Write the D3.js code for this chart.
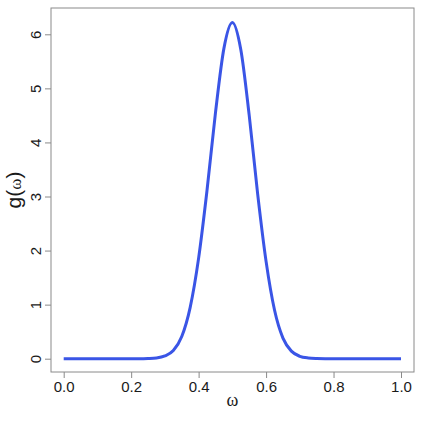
<!DOCTYPE html>
<html>
<head>
    <script src="https://cdnjs.cloudflare.com/ajax/libs/d3/7.8.5/d3.min.js"></script>
    <style>
        body { margin: 0; background: #fff; }
        .tick text { font-family: "Liberation Sans", Arial, sans-serif; font-size: 15px; fill: #1a1a1a; }
    </style>
</head>
<body>
<svg id="chart"></svg>
<script>
    // values, step 0.025
    const omega = d3.range(0, 41).map(i => +(i * 0.025).toFixed(3));
    const gValues = [
        0, 0, 0, 0, 0, 0, 0, 0, 0, 0,
        0.004, 0.014, 0.05, 0.15, 0.41, 0.95, 1.86, 3.12, 4.55, 5.74,
        6.22,
        5.72, 4.5, 3.05, 1.8, 0.9, 0.38, 0.14, 0.045, 0.013, 0.003,
        0, 0, 0, 0, 0, 0, 0, 0, 0, 0
    ];
    const xTicks = [0, 0.2, 0.4, 0.6, 0.8, 1.0];
    const yTicks = [0, 1, 2, 3, 4, 5, 6];

    const width = 423, height = 423;
    const box = { left: 51, right: 414, top: 8, bottom: 372 };

    const svg = d3.select("#chart")
        .attr("width", width)
        .attr("height", height);

    const x = d3.scaleLinear().domain([0, 1]).range([63.7, 401]);
    const y = d3.scaleLinear().domain([0, 6]).range([358.7, 34.3]);

    const data = omega.map((w, i) => ({ w, g: gValues[i] }));

    svg.append("path")
        .datum(data)
        .attr("fill", "none")
        .attr("stroke", "#3a55e6")
        .attr("stroke-width", 3)
        .attr("stroke-linejoin", "round")
        .attr("d", d3.line().x(d => x(d.w)).y(d => y(d.g)).curve(d3.curveMonotoneX));

    // plot box
    svg.append("rect")
        .attr("x", box.left)
        .attr("y", box.top)
        .attr("width", box.right - box.left)
        .attr("height", box.bottom - box.top)
        .attr("fill", "none")
        .attr("stroke", "#8a8a8a")
        .attr("stroke-width", 1);

    const xAxis = svg.append("g")
        .attr("transform", `translate(0,${box.bottom})`)
        .call(d3.axisBottom(x).tickValues(xTicks).tickFormat(d3.format(".1f")).tickSize(6).tickPadding(3));
    xAxis.select(".domain").remove();
    xAxis.selectAll(".tick line").attr("stroke", "#8a8a8a");

    const yAxis = svg.append("g")
        .attr("transform", `translate(${box.left},0)`)
        .call(d3.axisLeft(y).tickValues(yTicks).tickFormat(d3.format("d")).tickSize(6));
    yAxis.select(".domain").remove();
    yAxis.selectAll(".tick line").attr("stroke", "#8a8a8a");
    yAxis.selectAll(".tick text")
        .attr("text-anchor", "middle")
        .attr("x", 0)
        .attr("dy", 0)
        .attr("transform", "translate(-16,0) rotate(-90)")
        .attr("dominant-baseline", "central");

    svg.append("text")
        .attr("x", x(0.5))
        .attr("y", 406)
        .attr("text-anchor", "middle")
        .attr("font-family", "'Liberation Serif', 'DejaVu Serif', serif")
        .attr("font-size", 18)
        .attr("fill", "#1a1a1a")
        .text("ω");

    const yl = svg.append("text")
        .attr("transform", `translate(21,${(box.top + box.bottom) / 2}) rotate(-90)`)
        .attr("text-anchor", "middle")
        .attr("fill", "#1a1a1a")
        .attr("font-size", 21)
        .attr("font-family", "'Liberation Sans', Arial, sans-serif");
    yl.append("tspan").text("g(");
    yl.append("tspan").attr("font-family", "'Liberation Serif', serif").attr("font-size", 17).text("ω");
    yl.append("tspan").text(")");
</script>
</body>
</html>
